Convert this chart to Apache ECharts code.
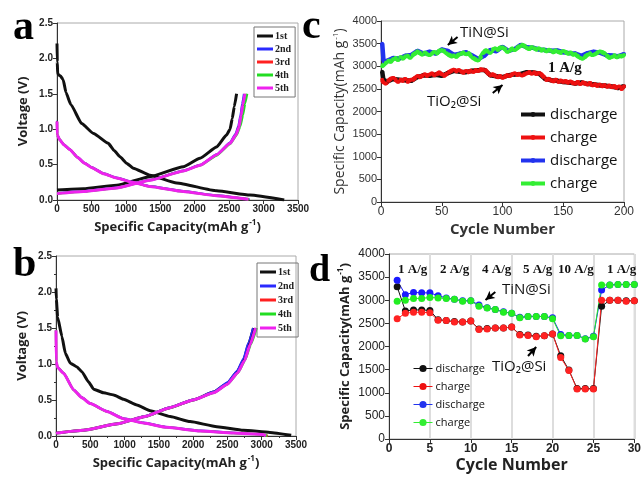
<!DOCTYPE html>
<html>
<head>
<meta charset="utf-8">
<script src="https://cdn.jsdelivr.net/npm/echarts@6/dist/echarts.min.js"></script>
<style>
html, body { margin: 0; padding: 0; background: #fff; }
#chart { width: 644px; height: 477px; }
</style>
</head>
<body>
<div id="chart"></div>
<script>
// ---- panel a : voltage profiles, [capacity, voltage] ----
const aDis1 = [[0,2.21],[4,1.95],[10,1.78],[50,1.75],[90,1.70],[130,1.52],[200,1.35],[358,1.08],[530,0.94],[745,0.80],[830,0.70],[915,0.61],[1010,0.52],[1108,0.45],[1350,0.35],[1738,0.24],[2319,0.13],[2803,0.07],[3300,0.0]];
const aCha1 = [[0,0.14],[382,0.16],[867,0.21],[1350,0.33],[1835,0.47],[2077,0.59],[2319,0.75],[2464,0.92],[2513,1.0],[2545,1.15],[2575,1.32],[2608,1.5]];
const aDis2 = [[0,1.12],[3,0.93],[40,0.86],[100,0.79],[189,0.72],[300,0.61],[400,0.53],[500,0.47],[680,0.38],[866,0.32],[1100,0.26],[1350,0.2],[1835,0.13],[2319,0.07],[2800,0.01]];
const aCha2 = [[0,0.1],[382,0.13],[866,0.18],[1350,0.29],[1835,0.42],[2077,0.5],[2319,0.65],[2513,0.82],[2590,0.94],[2630,1.05],[2660,1.2],[2685,1.36],[2710,1.5]];
const aDis3 = [[0,1.11],[3,0.92],[40,0.85],[100,0.78],[189,0.71],[300,0.6],[400,0.52],[500,0.46],[680,0.37],[866,0.31],[1100,0.25],[1350,0.19],[1835,0.12],[2319,0.06],[2790,0.01]];
const aCha3 = [[0,0.09],[382,0.12],[866,0.17],[1350,0.28],[1835,0.41],[2077,0.49],[2319,0.64],[2513,0.8],[2600,0.93],[2645,1.05],[2680,1.2],[2708,1.36],[2735,1.5]];
const aDis4 = [[0,1.1],[3,0.92],[40,0.85],[100,0.78],[189,0.71],[300,0.6],[400,0.52],[500,0.46],[680,0.37],[866,0.31],[1100,0.25],[1350,0.19],[1835,0.12],[2319,0.06],[2785,0.01]];
const aCha4 = [[0,0.09],[382,0.12],[866,0.17],[1350,0.28],[1835,0.41],[2077,0.49],[2319,0.63],[2513,0.79],[2610,0.92],[2660,1.04],[2700,1.2],[2730,1.36],[2760,1.5]];
const aDis5 = [[0,1.11],[3,0.92],[40,0.85],[100,0.78],[189,0.71],[300,0.6],[400,0.52],[500,0.46],[680,0.37],[866,0.31],[1100,0.25],[1350,0.19],[1835,0.12],[2319,0.06],[2780,0.01]];
const aCha5 = [[0,0.09],[382,0.12],[866,0.17],[1350,0.28],[1835,0.41],[2077,0.49],[2319,0.64],[2513,0.80],[2600,0.92],[2640,1.02],[2675,1.2],[2700,1.35],[2730,1.5]];

// ---- panel b ----
const bDis1 = [[0,2.05],[5,1.9],[24,1.65],[87,1.38],[136,1.15],[209,1.01],[306,0.96],[379,0.89],[476,0.75],[549,0.65],[694,0.60],[840,0.57],[985,0.51],[1180,0.43],[1374,0.35],[1665,0.27],[1956,0.20],[2345,0.13],[2733,0.08],[3121,0.05],[3430,0.01]];
const bCha1 = [[0,0.04],[400,0.08],[900,0.17],[1300,0.27],[1650,0.39],[2000,0.5],[2300,0.61],[2500,0.73],[2640,0.89],[2740,1.06],[2810,1.28],[2880,1.5]];
const bDis2 = [[0,1.45],[3,1.04],[24,0.96],[112,0.88],[257,0.65],[380,0.54],[500,0.46],[743,0.35],[985,0.25],[1277,0.19],[1617,0.13],[2102,0.08],[2587,0.05],[3024,0.02],[3070,0.0]];
const bCha2 = [[0,0.04],[400,0.08],[900,0.17],[1300,0.28],[1650,0.4],[2000,0.51],[2300,0.62],[2500,0.75],[2640,0.91],[2730,1.08],[2800,1.29],[2870,1.5]];
const bDis3 = [[0,1.46],[3,1.03],[24,0.95],[112,0.87],[257,0.64],[380,0.53],[500,0.45],[743,0.34],[985,0.24],[1277,0.18],[1617,0.12],[2102,0.07],[2587,0.04],[3024,0.02],[3090,0.0]];
const bCha3 = [[0,0.04],[400,0.08],[900,0.17],[1300,0.27],[1650,0.39],[2000,0.5],[2300,0.6],[2500,0.72],[2650,0.88],[2750,1.05],[2835,1.27],[2915,1.5]];
const bDis4 = [[0,1.47],[3,1.03],[24,0.95],[112,0.87],[257,0.64],[380,0.53],[500,0.45],[743,0.34],[985,0.24],[1277,0.18],[1617,0.12],[2102,0.07],[2587,0.04],[3024,0.02],[3080,0.0]];
const bCha4 = [[0,0.04],[400,0.08],[900,0.17],[1300,0.27],[1650,0.39],[2000,0.5],[2300,0.6],[2500,0.72],[2655,0.88],[2755,1.05],[2840,1.27],[2925,1.5]];
const bDis5 = [[0,1.47],[3,1.03],[24,0.95],[112,0.87],[257,0.64],[380,0.53],[500,0.45],[743,0.34],[985,0.24],[1277,0.18],[1617,0.12],[2102,0.07],[2587,0.04],[3024,0.02],[3060,0.0]];
const bCha5 = [[0,0.04],[400,0.08],[900,0.17],[1300,0.27],[1650,0.39],[2000,0.5],[2300,0.6],[2500,0.72],[2650,0.88],[2750,1.05],[2830,1.27],[2910,1.5]];

// ---- panel c : long cycling at 1 A/g ----
const cCycles = [1,2,4,6,8,10,12,14,16,18,20,22,24,26,28,30,32,34,36,38,40,42,44,46,48,50,52,54,56,58,60,62,64,66,68,70,72,74,76,78,80,82,84,86,88,90,92,94,96,98,
  100,102,104,106,108,110,112,114,116,118,120,122,124,126,128,130,132,134,136,138,140,142,144,146,148,150,152,154,156,158,160,162,164,166,168,170,172,174,176,178,180,182,184,186,188,190,192,194,196,198,200];
const cChaTiN = [3000,3030,3080,3120,3100,3160,3180,3140,3200,3170,
  3220,3230,3190,3250,3280,3330,3290,3260,3300,3270,
  3250,3290,3310,3280,3340,3360,3330,3290,3250,3220,
  3240,3210,3260,3280,3300,3270,3290,3230,3180,3150,
  3130,3200,3290,3350,3330,3300,3370,3390,3360,3410,
  3420,3380,3320,3350,3390,3360,3400,3440,3470,3450,
  3410,3380,3420,3400,3370,3390,3350,3370,3330,3360,
  3340,3310,3350,3320,3300,3330,3310,3280,3300,3260,
  3270,3220,3190,3170,3210,3260,3280,3250,3270,3300,
  3320,3310,3280,3230,3190,3210,3240,3200,3230,3220,
  3250];
const cChaTiO2 = [2700,2650,2620,2680,2720,2740,2700,2660,2700,2680,
  2720,2660,2690,2700,2740,2780,2760,2790,2820,2790,
  2810,2840,2800,2830,2860,2820,2790,2830,2870,2900,
  2920,2890,2910,2880,2860,2890,2870,2900,2880,2910,
  2900,2930,2920,2910,2850,2800,2820,2790,2760,2780,
  2750,2770,2800,2790,2820,2840,2810,2830,2800,2820,
  2850,2870,2840,2860,2830,2850,2820,2760,2700,2720,
  2690,2670,2700,2660,2680,2650,2670,2640,2660,2630,
  2620,2650,2610,2640,2620,2600,2630,2580,2600,2570,
  2590,2560,2580,2550,2570,2540,2560,2520,2550,2500,
  2560];
const cCyclesB = [1,2,3,5,10,15,20,25,30,35,40,45,50,55,60,65,70,75,80,85,90,95,100,105,110,115,120,125,130,135,140,145,150,155,160,165,170,175,180,185,190,195,200];
const cDisTiN = [3500,3150,3080,3120,3180,3170,3230,3250,3340,3280,3320,3280,3370,3340,3250,3280,3310,3240,3160,3230,3360,3330,3430,3340,3380,3470,3420,3410,3370,3360,3340,3350,3310,3290,3280,3230,3290,3320,3300,3250,3240,3220,3270];
const cDisTiO2 = [2880,2700,2680,2660,2720,2700,2690,2680,2760,2800,2790,2810,2790,2850,2900,2880,2870,2900,2910,2920,2800,2780,2760,2800,2820,2830,2870,2860,2840,2720,2690,2680,2650,2640,2620,2640,2610,2600,2580,2570,2550,2520,2560];

// ---- panel d : rate capability ----
const dCycles = [1,2,3,4,5,6,7,8,9,10,11,12,13,14,15,16,17,18,19,20,21,22,23,24,25,26,27,28,29,30];
const dDisTiO2 = [3290,2770,2790,2790,2780,2580,2560,2540,2530,2550,2380,2390,2400,2400,2420,2260,2250,2220,2230,2270,1800,1490,1090,1090,1090,2870,3000,3000,2990,2990];
const dChaTiO2 = [2600,2720,2740,2740,2730,2570,2560,2530,2530,2550,2370,2380,2400,2400,2420,2250,2240,2210,2230,2270,1760,1480,1080,1080,1080,3000,3000,3000,2980,2990];
const dDisTiN = [3430,3120,3170,3160,3160,3100,3050,3020,2990,2990,2900,2840,2800,2750,2720,2630,2650,2650,2650,2620,2260,2240,2240,2170,2220,3220,3330,3340,3340,3340];
const dChaTiN = [2980,3000,3040,3040,3060,3050,3040,3020,2980,2990,2870,2830,2800,2740,2720,2620,2650,2650,2650,2600,2230,2240,2240,2160,2210,3330,3330,3340,3340,3340];
const dRates = ['1 A/g', '2 A/g', '4 A/g', '5 A/g', '10 A/g', '1 A/g'];

const cycleNames = ['1st', '2nd', '3rd', '4th', '5th'];
const cycleColors = ['#111111', '#2a2aff', '#ff2020', '#22dd22', '#ee22ee'];
const cycleWidths = [3, 1.5, 2, 2.5, 3];

const chart = echarts.init(document.getElementById('chart'));

const tickColor = '#222';
const capName = 'Specific Capacity(mAh g{sup|-1})';
const plain = v => String(v);

function valueAxis(gridIndex, min, max, interval, extra) {
    return Object.assign({
        type: 'value',
        gridIndex: gridIndex,
        min: min,
        max: max,
        interval: interval,
        splitLine: { show: false },
        axisLine: { show: true, onZero: false, lineStyle: { color: '#333', width: 1 } },
        axisTick: { show: true, length: 4, lineStyle: { color: '#333' } },
        nameLocation: 'middle'
    }, extra);
}

function nameStyle(size, weight, color) {
    return {
        fontSize: size,
        fontWeight: weight,
        fontFamily: 'Open Sans',
        color: color,
        rich: {
            sup: { fontSize: Math.round(size * 0.6), fontWeight: weight, fontFamily: 'Open Sans', color: color, verticalAlign: 'top', padding: [0, 0, 8, 1] }
        }
    };
}

const abTicks = { fontSize: 10, fontWeight: 'bold', fontFamily: 'Liberation Sans', color: tickColor, margin: 4, formatter: plain };
const abVTicks = Object.assign({}, abTicks, { formatter: v => v.toFixed(1) });

function voltageSeries(gridIdx, dis, cha) {
    const out = [];
    for (let i = 0; i < 5; i++) {
        [dis[i], cha[i]].forEach(d => {
            out.push({
                name: cycleNames[i],
                type: 'line',
                xAxisIndex: gridIdx,
                yAxisIndex: gridIdx,
                data: d,
                symbol: 'none',
                smooth: 0.15,
                smoothMonotone: 'x',
                lineStyle: { color: cycleColors[i], width: cycleWidths[i] },
                itemStyle: { color: cycleColors[i] }
            });
        });
    }
    return out;
}

function pairs(xs, ys) {
    return xs.map((x, i) => [x, ys[i]]);
}

function cycleSeries(gridIdx, name, color, xs, ys, lw, sym, extra) {
    return Object.assign({
        name: name,
        type: 'line',
        xAxisIndex: gridIdx,
        yAxisIndex: gridIdx,
        data: pairs(xs, ys),
        symbol: 'circle',
        symbolSize: sym,
        lineStyle: { color: color, width: lw },
        itemStyle: { color: color }
    }, extra || {});
}

function arrows(list) {
    return {
        silent: true,
        symbol: ['none', 'arrow'],
        symbolSize: [7, 9],
        label: { show: false },
        lineStyle: { color: '#000', width: 2, type: 'solid' },
        data: list.map(a => [{ coord: a[0] }, { coord: a[1] }])
    };
}

const series = []
    .concat(voltageSeries(0, [aDis1, aDis2, aDis3, aDis4, aDis5], [aCha1, aCha2, aCha3, aCha4, aCha5]))
    .concat([
        cycleSeries(1, 'discharge', '#111111', cCyclesB, cDisTiO2, 4.5, 4),
        cycleSeries(1, 'charge', '#ee1111', cCycles, cChaTiO2, 4.5, 4),
        cycleSeries(1, 'discharge ', '#2233ee', cCyclesB, cDisTiN, 4.5, 4),
        cycleSeries(1, 'charge ', '#33ee33', cCycles, cChaTiN, 4.5, 4, {
            markLine: arrows([[[63, 3646], [55, 3470]], [[92, 2409], [100, 2586]]])
        })
    ])
    .concat(voltageSeries(2, [bDis1, bDis2, bDis3, bDis4, bDis5], [bCha1, bCha2, bCha3, bCha4, bCha5]))
    .concat([
        cycleSeries(3, 'discharge', '#111111', dCycles, dDisTiO2, 1, 7),
        cycleSeries(3, 'charge', '#ff2222', dCycles, dChaTiO2, 1, 7),
        cycleSeries(3, 'discharge ', '#1a1aff', dCycles, dDisTiN, 1, 7),
        cycleSeries(3, 'charge ', '#22ee22', dCycles, dChaTiN, 1, 7, {
            markLine: arrows([[[13, 3178], [11.8, 3005]], [[17, 1795], [18, 1989]]])
        })
    ]);

const panelFont = 'bold 42px "Liberation Serif"';
const graphics = [
    { type: 'text', x: 13, y: 28, z: 100, style: { text: 'a', font: panelFont, fill: '#000', verticalAlign: 'middle' } },
    { type: 'text', x: 13, y: 265, z: 100, style: { text: 'b', font: panelFont, fill: '#000', verticalAlign: 'middle' } },
    { type: 'text', x: 302, y: 27, z: 100, style: { text: 'c', font: panelFont, fill: '#000', verticalAlign: 'middle' } },
    { type: 'text', x: 309, y: 271, z: 100, style: { text: 'd', font: 'bold 38px "Liberation Serif"', fill: '#000', verticalAlign: 'middle' } },
    // panel c notes
    { type: 'text', x: 460, y: 33, z: 100, style: { text: 'TiN@Si', font: '15px "Open Sans"', fill: '#111', verticalAlign: 'middle' } },
    { type: 'text', x: 548, y: 68, z: 100, style: { text: '1 A/g', font: 'bold 15px "Liberation Serif"', fill: '#111', verticalAlign: 'middle' } },
    { type: 'text', x: 427, y: 102, z: 100, style: { text: 'TiO₂@Si', font: '15px "Open Sans"', fill: '#111', verticalAlign: 'middle' } },
    // panel d notes
    { type: 'text', x: 502, y: 290, z: 100, style: { text: 'TiN@Si', font: '15px "Open Sans"', fill: '#111', verticalAlign: 'middle' } },
    { type: 'text', x: 492, y: 367, z: 100, style: { text: 'TiO₂@Si', font: '15px "Open Sans"', fill: '#111', verticalAlign: 'middle' } }
];
const rateX = [398, 440, 482, 523, 558, 607];
dRates.forEach((r, i) => {
    graphics.push({ type: 'text', x: rateX[i], y: 270, z: 100, style: { text: r, font: 'bold 13px "Liberation Serif"', fill: '#111', verticalAlign: 'middle' } });
});

const option = {
    animation: false,
    backgroundColor: '#fff',
    grid: [
        { left: 57, top: 23, width: 241, height: 177, show: true, borderColor: '#aaa', borderWidth: 1 },
        { left: 381, top: 21, width: 243, height: 181, show: true, borderColor: '#aaa', borderWidth: 1 },
        { left: 56, top: 256, width: 240, height: 180, show: true, borderColor: '#aaa', borderWidth: 1 },
        { left: 389, top: 254, width: 249, height: 185, show: true, borderColor: '#aaa', borderWidth: 1 }
    ],
    xAxis: [
        valueAxis(0, 0, 3500, 500, { name: capName, nameGap: 19, nameTextStyle: nameStyle(13, 'bold', '#222'), axisLabel: abTicks }),
        valueAxis(1, 0, 200, 50, { name: 'Cycle Number', nameGap: 20, nameTextStyle: nameStyle(15, 'bold', '#333'),
            axisLabel: { fontSize: 12, fontFamily: 'Liberation Sans', color: '#333', margin: 4, formatter: plain } }),
        valueAxis(2, 0, 3500, 500, { name: capName, nameGap: 19, nameTextStyle: nameStyle(13, 'bold', '#222'), axisLabel: abTicks,
            minorTick: { show: true, splitNumber: 2, length: 2 } }),
        valueAxis(3, 0, 30, 5, { name: 'Cycle Number', nameGap: 18, nameTextStyle: nameStyle(16, 'bold', '#222'),
            axisLabel: { fontSize: 12, fontWeight: 'bold', fontFamily: 'Liberation Sans', color: tickColor, margin: 4, formatter: plain },
            splitLine: { show: true, lineStyle: { color: '#ddd', width: 2 } } })
    ],
    yAxis: [
        valueAxis(0, 0, 2.5, 0.5, { name: 'Voltage (V)', nameGap: 27, nameTextStyle: nameStyle(13, 'bold', '#222'), axisLabel: abVTicks }),
        valueAxis(1, 0, 4000, 500, { name: capName, nameGap: 33, nameTextStyle: nameStyle(14, 'normal', '#333'),
            axisLabel: { fontSize: 11, fontFamily: 'Liberation Sans', color: '#333', margin: 4, formatter: plain } }),
        valueAxis(2, 0, 2.5, 0.5, { name: 'Voltage (V)', nameGap: 27, nameTextStyle: nameStyle(13, 'bold', '#222'), axisLabel: abVTicks,
            minorTick: { show: true, splitNumber: 2, length: 2 } }),
        valueAxis(3, 0, 4000, 500, { name: capName, nameGap: 36, nameTextStyle: nameStyle(13, 'bold', '#222'),
            axisLabel: { fontSize: 12, fontFamily: 'Liberation Sans', color: tickColor, margin: 4, formatter: plain } })
    ],
    legend: [
        { orient: 'vertical', left: 254, top: 27, padding: [4, 4, 4, 3], itemGap: 3, itemWidth: 16, itemHeight: 3, icon: 'rect',
          borderColor: '#777', borderWidth: 1, selectedMode: false,
          textStyle: { fontSize: 10, fontWeight: 'bold', fontFamily: 'Liberation Serif', color: '#222', padding: [0, 0, 0, -3] },
          data: cycleNames },
        { orient: 'vertical', left: 257, top: 263, padding: [4, 4, 4, 3], itemGap: 4, itemWidth: 16, itemHeight: 3, icon: 'rect',
          borderColor: '#777', borderWidth: 1, selectedMode: false,
          textStyle: { fontSize: 10, fontWeight: 'bold', fontFamily: 'Liberation Serif', color: '#222', padding: [0, 0, 0, -3] },
          data: cycleNames },
        { orient: 'vertical', left: 519, top: 107, padding: 0, itemGap: 8, itemWidth: 24, itemHeight: 6, selectedMode: false,
          lineStyle: { width: 4 },
          textStyle: { fontSize: 15, fontFamily: 'Open Sans', color: '#111' },
          data: ['discharge', 'charge', 'discharge ', 'charge '] },
        { orient: 'vertical', left: 413, top: 363, padding: 0, itemGap: 7, itemWidth: 19, itemHeight: 9, selectedMode: false,
          lineStyle: { width: 1 },
          textStyle: { fontSize: 11, fontFamily: 'Open Sans', color: '#111', padding: [0, 0, 0, -2] },
          data: ['discharge', 'charge', 'discharge ', 'charge '] }
    ],
    graphic: graphics,
    series: series
};

chart.setOption(option);
</script>
</body>
</html>
